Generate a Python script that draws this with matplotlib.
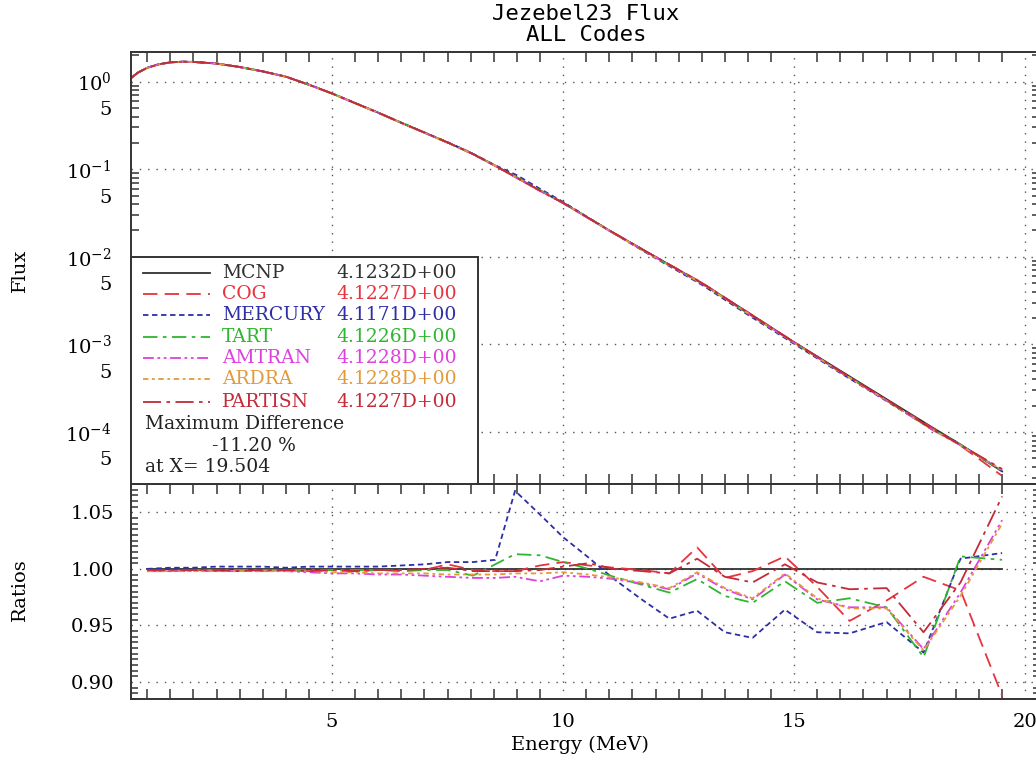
import numpy as np
import matplotlib
matplotlib.use("Agg")
import matplotlib.pyplot as plt
from matplotlib.ticker import FixedLocator, MultipleLocator, FuncFormatter, LogLocator

plt.rcParams['font.family'] = 'DejaVu Serif'
plt.rcParams['mathtext.fontset'] = 'dejavuserif'

# flux (MCNP)
energy_flux = [0.65, 0.8, 1.0, 1.25, 1.5, 1.75, 2.0, 2.5, 3.0, 3.5, 4.0, 4.5, 5.0, 5.5,
               6.0, 6.5, 7.0, 7.5, 8.0, 8.5, 9.0, 9.5, 10.0, 11.0, 12.0, 13.0, 14.0,
               15.0, 16.0, 17.0, 18.0, 18.5, 19.0, 19.5]
flux_mcnp = [1.10, 1.27, 1.44, 1.58, 1.66, 1.69, 1.68, 1.61, 1.47, 1.31, 1.14, 0.923,
             0.733, 0.569, 0.442, 0.339, 0.262, 0.202, 0.154, 0.112, 0.0800, 0.0570,
             0.0412, 0.0200, 0.0100, 5.01e-3, 2.32e-3, 1.06e-3, 5.01e-4, 2.37e-4,
             1.12e-4, 7.76e-5, 5.25e-5, 3.55e-5]

# ratios to MCNP
energy_ratio = [1.0, 1.5, 2.0, 2.5, 3.0, 3.5, 4.0, 4.5, 5.0, 5.5, 6.0, 6.5, 7.0, 7.5,
                8.05, 8.53, 8.96, 9.5, 10.0, 10.55, 11.1, 11.7, 12.3, 12.9, 13.5, 14.1,
                14.8, 15.5, 16.2, 17.0, 17.8, 18.6, 19.5]
ratio_mcnp = [1.0] * len(energy_ratio)
ratio_cog = [0.998, 0.998, 0.999, 0.998, 0.999, 0.998, 0.999, 0.998, 0.999, 0.998, 0.999,
             0.998, 0.999, 1.004, 0.999, 0.998, 0.998, 1.003, 1.006, 1.003, 1.001, 0.999,
             0.996, 1.019, 0.992, 0.998, 1.011, 0.984, 0.954, 0.972, 0.993, 0.981, 0.888]
ratio_mercury = [1.000, 1.001, 1.001, 1.002, 1.002, 1.002, 1.001, 1.002, 1.002, 1.002, 1.002,
                 1.003, 1.004, 1.006, 1.006, 1.008, 1.069, 1.048, 1.028, 1.010, 0.991, 0.973,
                 0.956, 0.963, 0.944, 0.939, 0.964, 0.944, 0.943, 0.953, 0.926, 1.009, 1.014]
ratio_tart = [0.998, 0.998, 0.999, 0.999, 0.999, 0.999, 0.999, 0.999, 0.999, 0.999, 0.999,
              0.999, 0.999, 0.999, 0.994, 1.004, 1.013, 1.012, 1.006, 1.000, 0.993, 0.986,
              0.979, 0.991, 0.976, 0.970, 0.989, 0.970, 0.974, 0.966, 0.922, 1.011, 1.008]
ratio_amtran = [0.998, 0.998, 0.998, 0.998, 0.998, 0.998, 0.998, 0.997, 0.996, 0.996, 0.995,
                0.995, 0.994, 0.993, 0.992, 0.992, 0.993, 0.989, 0.994, 0.993, 0.991, 0.987,
                0.982, 0.996, 0.982, 0.973, 0.995, 0.973, 0.966, 0.966, 0.929, 0.979, 1.043]
ratio_ardra = [0.998, 0.998, 0.998, 0.998, 0.998, 0.998, 0.998, 0.998, 0.997, 0.997, 0.996,
               0.996, 0.996, 0.995, 0.995, 0.995, 0.996, 0.996, 0.997, 0.995, 0.992, 0.988,
               0.983, 0.997, 0.983, 0.974, 0.996, 0.974, 0.965, 0.965, 0.928, 0.976, 1.040]
ratio_partisn = [0.999, 0.999, 0.999, 0.999, 0.998, 0.999, 0.999, 0.998, 0.999, 0.998, 0.999,
                 0.999, 1.000, 1.001, 0.998, 0.998, 0.998, 0.999, 1.002, 1.005, 1.000, 0.998,
                 0.996, 1.009, 0.993, 0.988, 1.004, 0.988, 0.982, 0.983, 0.944, 0.988, 1.064]

codes = ['MCNP', 'COG', 'MERCURY', 'TART', 'AMTRAN', 'ARDRA', 'PARTISN']
integrals = ['4.1232D+00', '4.1227D+00', '4.1171D+00', '4.1226D+00', '4.1228D+00',
             '4.1228D+00', '4.1227D+00']
ratios = [ratio_mcnp, ratio_cog, ratio_mercury, ratio_tart, ratio_amtran, ratio_ardra,
          ratio_partisn]
max_diff = '-11.20 %'
max_diff_x = '19.504'

colors = ['#303030', '#e8333f', '#2e2ea6', '#2fb52f', '#df3fdf', '#e39a3a', '#c42a38']
dashes = [(None, None), (8, 4), (3, 2), (8, 3, 2, 3), (6, 2, 1.5, 2, 1.5, 2),
          (3, 2, 1.5, 2), (10, 3, 2, 3)]

W, H = 1036, 757
fig = plt.figure(figsize=(W / 100, H / 100), dpi=100)

left, right = 131, 1040
ax1 = fig.add_axes([left / W, 1 - 484 / H, (right - left) / W, (484 - 52) / H])
ax2 = fig.add_axes([left / W, 1 - 699 / H, (right - left) / W, (699 - 484) / H])

grid_kw = dict(color='#555555', linestyle=(0, (1, 5)), linewidth=1.0)
fs = 14

for i, name in enumerate(codes):
    r_on_flux = np.interp(energy_flux, energy_ratio, ratios[i])
    y = np.array(flux_mcnp) * r_on_flux
    line, = ax1.plot(energy_flux, y, color=colors[i], lw=1.3)
    line2, = ax2.plot(energy_ratio, ratios[i], color=colors[i], lw=1.3)
    if dashes[i][0] is not None:
        line.set_dashes(dashes[i])
        line2.set_dashes(dashes[i])

for ax in (ax1, ax2):
    ax.set_xlim(0.649, 20.32)
    ax.xaxis.set_major_locator(FixedLocator([5, 10, 15, 20]))
    ax.xaxis.set_minor_locator(MultipleLocator(0.5))
    ax.tick_params(axis='both', which='major', length=0, direction='in', top=True,
                   right=True, labelsize=fs, pad=10)
    ax.tick_params(axis='both', which='minor', length=7, width=1.1, direction='in',
                   top=True, right=True, color='#333333')
    ax.grid(True, which='major', **grid_kw)
    for s in ax.spines.values():
        s.set_linewidth(1.4)
        s.set_color('#333333')

ax1.set_yscale('log')
ax1.set_ylim(2.55e-5, 2.18)
ax1.yaxis.set_major_locator(LogLocator(base=10, numticks=20))
ax1.yaxis.set_minor_locator(LogLocator(base=10, subs=np.arange(2, 10), numticks=20))


def minor_lab(v, pos):
    m = v / 10 ** np.floor(np.log10(v) + 1e-9)
    return '5' if abs(m - 5) < 0.01 else ''


ax1.yaxis.set_minor_formatter(FuncFormatter(minor_lab))
ax1.tick_params(axis='y', which='both', labelsize=fs, pad=14)
ax1.tick_params(axis='y', which='minor', length=6)
ax1.tick_params(axis='x', labelbottom=False)

ax2.set_ylim(0.885, 1.075)
ax2.yaxis.set_major_locator(FixedLocator([0.90, 0.95, 1.00, 1.05]))
ax2.yaxis.set_minor_locator(MultipleLocator(0.005))
ax2.yaxis.set_major_formatter(FuncFormatter(lambda v, p: '%.2f' % v))
ax2.tick_params(axis='y', which='minor', length=5)
ax2.tick_params(axis='y', which='major', pad=12)

fig.text(20 / W, 1 - 270 / H, 'Flux', rotation=90, ha='center', va='center', fontsize=fs)
fig.text(20 / W, 1 - 590 / H, 'Ratios', rotation=90, ha='center', va='center', fontsize=fs)
fig.text(580 / W, 1 - 745 / H, 'Energy (MeV)', ha='center', va='center', fontsize=fs)
fig.text(586 / W, 1 - 4 / H, 'Jezebel23 Flux\nALL Codes', ha='center', va='top',
         fontsize=16, family='DejaVu Sans Mono', linespacing=1.05)

# legend box
lg = fig.add_axes([left / W, 1 - 484 / H, (478 - left) / W, (484 - 257) / H])
lg.set_xlim(0, 347)
lg.set_ylim(227, 0)
lg.set_xticks([])
lg.set_yticks([])
lg.set_facecolor('white')
for s in lg.spines.values():
    s.set_linewidth(1.4)
    s.set_color('#333333')
row_y = [16, 37, 58, 80, 101, 122, 145]
lfs = 13.5
for i, name in enumerate(codes):
    ln, = lg.plot([12, 79], [row_y[i], row_y[i]], color=colors[i], lw=1.3)
    if dashes[i][0] is not None:
        ln.set_dashes(dashes[i])
    lg.text(91, row_y[i], name, color=colors[i], va='center', ha='left', fontsize=lfs)
    lg.text(205, row_y[i], integrals[i], color=colors[i], va='center', ha='left', fontsize=lfs)
lg.text(14, 167, 'Maximum Difference', va='center', ha='left', fontsize=lfs, color='#222222')
lg.text(81, 189, max_diff, va='center', ha='left', fontsize=lfs, color='#222222')
lg.text(14, 210, 'at X= ' + max_diff_x, va='center', ha='left', fontsize=lfs, color='#222222')

fig.savefig('out.png', dpi=100)
